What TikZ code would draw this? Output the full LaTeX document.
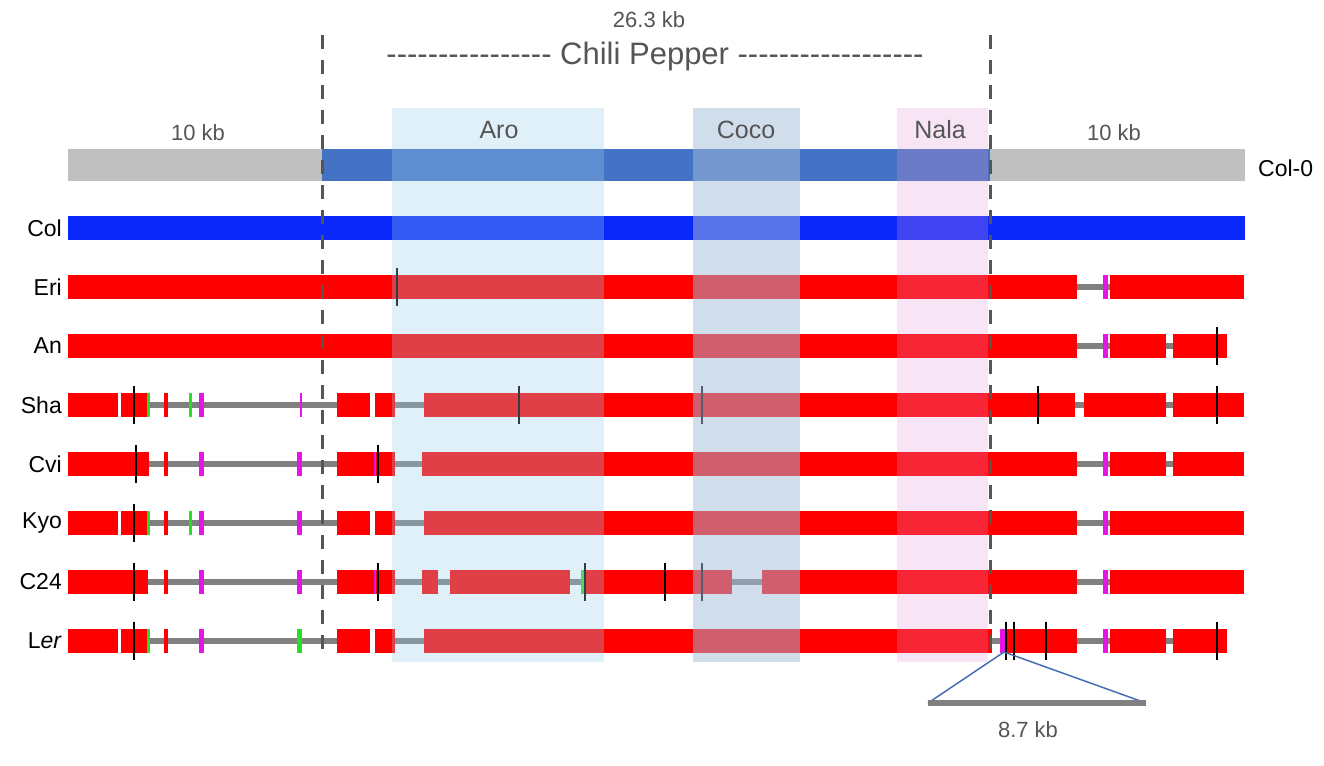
\documentclass[tikz,border=0pt]{standalone}
\usepackage{fontspec}
\setmainfont{Liberation Sans}
\definecolor{redb}{RGB}{255,0,0}
\definecolor{mag}{RGB}{230,20,230}
\definecolor{grn}{RGB}{40,220,40}
\definecolor{gline}{RGB}{128,128,128}
\definecolor{txtg}{RGB}{85,85,85}
\definecolor{colblue}{RGB}{10,40,250}
\definecolor{topblue}{RGB}{68,114,196}
\definecolor{topgray}{RGB}{192,192,192}
\definecolor{aroc}{RGB}{155,206,232}
\definecolor{cococ}{RGB}{163,188,216}
\definecolor{nalac}{RGB}{225,150,215}
\definecolor{tri}{RGB}{70,110,180}
\newcommand\rb[3]{\fill[redb] (#1,#3-12) rectangle (#2,#3+12);}
\newcommand\gl[3]{\draw[gline,line width=6pt] (#1,#3)--(#2,#3);}
\newcommand\tk[2]{\draw[black,line width=2.5pt] (#1,#2-19)--(#1,#2+19);}
\newcommand\mg[2]{\fill[mag] (#1-2.5,#2-12) rectangle (#1+2.5,#2+12);}
\newcommand\mgt[2]{\fill[mag] (#1-1.2,#2-12) rectangle (#1+1.2,#2+12);}
\newcommand\gn[2]{\fill[grn] (#1-2.5,#2-12) rectangle (#1+2.5,#2+12);}
\newcommand\gnt[2]{\fill[grn] (#1-1.5,#2-12) rectangle (#1+1.5,#2+12);}
\newcommand\hyph[1]{\foreach\i in {1,...,#1}{-\kern0pt}}
\begin{document}
\begin{tikzpicture}[x=1pt,y=-1pt,
  lab/.style={font=\fontsize{22}{26}\selectfont,text=txtg,inner sep=0},
  big/.style={font=\fontsize{25}{28}\selectfont,text=txtg,inner sep=0},
  rowlab/.style={font=\fontsize{23}{27}\selectfont,text=black,anchor=east,inner sep=0}]
\useasboundingbox (0,0) rectangle (1324,765);
% top Col-0 bar
\fill[topgray] (68,149) rectangle (1245,181);
\fill[topblue] (322,149) rectangle (990,181);
\node[rowlab,anchor=west] (col0) at (1258,168) {Col-0};
% Col
\fill[colblue] (68,216) rectangle (1245,240);
% Eri y=287
\gl{1077}{1110}{287}
\rb{68}{1077}{287}\rb{1110}{1244}{287}\mg{1105}{287}\tk{397}{287}
% An y=346
\gl{1077}{1110}{346}\gl{1166}{1173}{346}
\rb{68}{1077}{346}\rb{1110}{1166}{346}\rb{1173}{1227}{346}\mg{1105}{346}\tk{1217}{346}
% Sha y=405
\gl{148}{337}{405}\gl{395}{424}{405}\gl{1075}{1084}{405}\gl{1166}{1173}{405}
\rb{68}{118}{405}\rb{121}{148}{405}\rb{164}{168}{405}\rb{337}{370}{405}\rb{375}{395}{405}
\rb{424}{1075}{405}\rb{1084}{1166}{405}\rb{1173}{1244}{405}
\gnt{148}{405}\gnt{190}{405}\mg{201}{405}\mgt{301}{405}
\tk{134}{405}\tk{519}{405}\tk{702}{405}\tk{1038}{405}\tk{1217}{405}
% Cvi y=464
\gl{148}{337}{464}\gl{395}{422}{464}\gl{1077}{1110}{464}\gl{1166}{1173}{464}
\rb{68}{149}{464}\rb{164}{168}{464}\rb{337}{395}{464}\rb{422}{1077}{464}\rb{1110}{1166}{464}\rb{1173}{1244}{464}
\mg{201}{464}\mg{299}{464}\mgt{375}{464}\mg{1105}{464}
\tk{136}{464}\tk{378}{464}
% Kyo y=523
\gl{148}{337}{523}\gl{395}{424}{523}\gl{1077}{1110}{523}
\rb{68}{118}{523}\rb{121}{148}{523}\rb{164}{168}{523}\rb{337}{370}{523}\rb{375}{395}{523}
\rb{424}{1077}{523}\rb{1110}{1244}{523}
\gnt{148}{523}\gnt{190}{523}\mg{201}{523}\mg{299}{523}\mg{1105}{523}
\tk{134}{523}
% C24 y=582
\gl{148}{337}{582}\gl{395}{450}{582}\gl{570}{584}{582}\gl{732}{762}{582}\gl{1077}{1110}{582}
\rb{68}{148}{582}\rb{164}{168}{582}\rb{337}{395}{582}\rb{422}{438}{582}\rb{450}{570}{582}
\rb{584}{732}{582}\rb{762}{1077}{582}\rb{1110}{1244}{582}
\mg{201}{582}\mg{299}{582}\mgt{375}{582}\gn{583}{582}\mg{1105}{582}
\tk{134}{582}\tk{378}{582}\tk{585}{582}\tk{665}{582}\tk{702}{582}
% Ler y=641
\gl{148}{337}{641}\gl{395}{424}{641}\gl{990}{1004}{641}\gl{1077}{1110}{641}\gl{1166}{1173}{641}
\rb{68}{118}{641}\rb{121}{148}{641}\rb{164}{168}{641}\rb{337}{370}{641}\rb{375}{395}{641}
\rb{424}{992}{641}\rb{1004}{1077}{641}\rb{1110}{1166}{641}\rb{1173}{1227}{641}
\gnt{148}{641}\mg{201}{641}\gn{299}{641}\mg{1002}{641}\mg{1105}{641}
\tk{134}{641}\tk{1006}{641}\tk{1014}{641}\tk{1046}{641}\tk{1217}{641}
% overlays
\fill[aroc,fill opacity=0.31] (392,108) rectangle (604,662);
\fill[cococ,fill opacity=0.51] (693,108) rectangle (800,662);
\fill[nalac,fill opacity=0.25] (897,108) rectangle (988,662);
% dashed boundaries
\draw[txtg,line width=3pt,dash pattern=on 14pt off 11pt] (322,35)--(322,652);
\draw[txtg,line width=3pt,dash pattern=on 14pt off 11pt] (990,35)--(990,652);
% labels
\node[lab] (size) at (649,20) {26.3 kb};
\node[big,font=\fontsize{31}{34}\selectfont] (chili) at (655,56) {\hyph{16} Chili Pepper \hyph{18}};
\node[lab] (l10) at (198,133) {10 kb};
\node[lab] (r10) at (1114,133) {10 kb};
\node[big] (aro) at (499,130) {Aro};
\node[big] (coco) at (746,130) {Coco};
\node[big] (nala) at (940,130) {Nala};
\node[rowlab] (rcol) at (62,228) {Col};
\node[rowlab] (reri) at (62,287) {Eri};
\node[rowlab] (ran) at (62,346) {An};
\node[rowlab] (rsha) at (62,405) {Sha};
\node[rowlab] (rcvi) at (62,464) {Cvi};
\node[rowlab] (rkyo) at (62,523) {Kyo};
\node[rowlab] (rc24) at (62,582) {C24};
\node[rowlab] (rler) at (62,641) {L\emph{er}};
% zoom triangle
\coordinate (apex) at (1004,652);
\coordinate (bl) at (928,703);
\coordinate (br) at (1146,703);
\draw[tri,line width=1.5pt] (bl)--(apex)--(br);
\draw[gline,line width=6pt] (bl)--(br);
\node[lab] (k87) at (1028,730) {8.7 kb};
\end{tikzpicture}
\end{document}
